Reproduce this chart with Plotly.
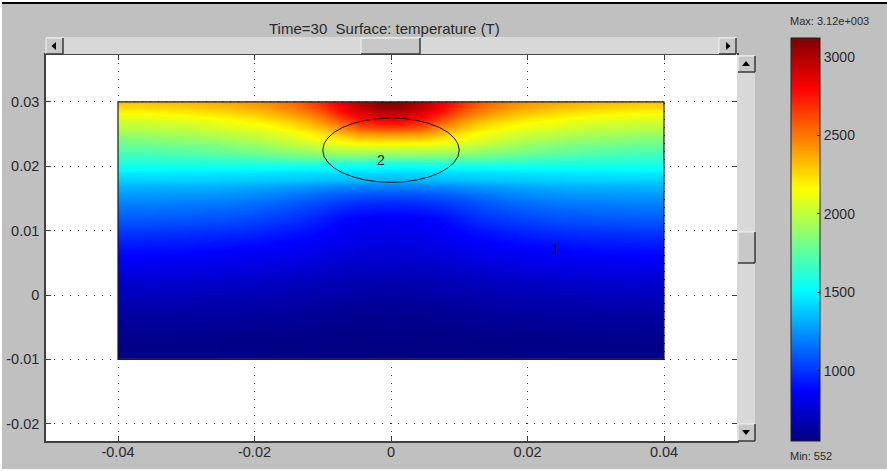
import plotly.graph_objects as go

# ---- data ----
x_tick_values = [-0.04, -0.02, 0, 0.02, 0.04]
x_tick_labels = ["-0.04", "-0.02", "0", "0.02", "0.04"]
y_tick_values = [-0.02, -0.01, 0, 0.01, 0.02, 0.03]
y_tick_labels = ["-0.02", "-0.01", "0", "0.01", "0.02", "0.03"]
bar_tick_values = [1000, 1500, 2000, 2500, 3000]
t_min = 552
t_max = 3120

# right-hand half of the symmetric domain: cell edges in x
x_half_edges = [0.001, 0.003, 0.006, 0.009, 0.012, 0.016, 0.020, 0.026, 0.034, 0.040]
# cell edges in y, from the top of the domain downward
y_edges_down = [0.03, 0.0296, 0.0288, 0.028, 0.027, 0.026, 0.025, 0.024, 0.023, 0.022,
                0.021, 0.02, 0.019, 0.017, 0.014, 0.01, 0.005, 0.0, -0.005, -0.01]
# temperature, one list per x cell (centre outward), each running top to bottom
col_0 = [3120, 3060, 2960, 2870, 2720, 2520, 2320, 2140, 1970, 1800, 1590, 1480, 1350, 1060, 860, 790, 680, 600, 555]
col_1 = [3090, 3040, 2940, 2855, 2710, 2515, 2318, 2140, 1970, 1800, 1592, 1482, 1352, 1062, 862, 791, 682, 601, 555]
col_2 = [3000, 2960, 2880, 2790, 2660, 2490, 2310, 2140, 1970, 1800, 1600, 1485, 1355, 1070, 870, 795, 685, 603, 556]
col_3 = [2830, 2800, 2740, 2640, 2500, 2380, 2240, 2110, 1960, 1800, 1610, 1490, 1360, 1090, 900, 810, 695, 608, 558]
col_4 = [2680, 2640, 2560, 2470, 2370, 2260, 2160, 2060, 1930, 1790, 1620, 1490, 1370, 1120, 950, 830, 705, 615, 560]
col_5 = [2540, 2500, 2440, 2350, 2250, 2160, 2080, 2000, 1890, 1770, 1620, 1500, 1380, 1160, 1000, 850, 720, 625, 563]
col_6 = [2450, 2400, 2340, 2260, 2170, 2090, 2010, 1940, 1850, 1740, 1610, 1505, 1390, 1200, 1040, 870, 730, 632, 566]
col_7 = [2390, 2330, 2270, 2190, 2110, 2040, 1960, 1880, 1800, 1700, 1600, 1510, 1400, 1230, 1075, 890, 745, 640, 570]
col_8 = [2330, 2270, 2200, 2120, 2040, 1980, 1900, 1820, 1750, 1670, 1595, 1515, 1405, 1250, 1095, 910, 755, 645, 573]
col_9 = [2300, 2240, 2170, 2090, 2010, 1950, 1860, 1790, 1720, 1650, 1590, 1520, 1410, 1260, 1110, 920, 760, 650, 575]
half_columns = [col_0, col_1, col_2, col_3, col_4, col_5, col_6, col_7, col_8, col_9]

# ---- figure geometry (pixels) ----
W, H = 887, 471
L, R, T, B = 46, 737, 55, 441
FONT = "Liberation Sans, Arial, sans-serif"
INK = "#2a2a2a"

def px(v):
    return (v - L) / (R - L)

def py(v):
    return (B - v) / (B - T)

x_edges = [-e for e in reversed(x_half_edges)] + x_half_edges
columns = list(reversed(half_columns[1:])) + half_columns
y_edges = list(reversed(y_edges_down))
z = [[c[len(y_edges_down) - 2 - i] for c in columns] for i in range(len(y_edges_down) - 1)]

jet = [[0, "#000080"], [0.125, "#0000ff"], [0.375, "#00ffff"], [0.625, "#ffff00"],
       [0.875, "#ff0000"], [1, "#800000"]]

fig = go.Figure(go.Heatmap(
    x=x_edges, y=y_edges, z=z, zmin=t_min, zmax=t_max, zsmooth="best",
    colorscale=jet, hoverinfo="skip",
    colorbar=dict(
        x=px(791), xanchor="left", xpad=0, y=py(441), yanchor="bottom", ypad=0,
        thickness=29, thicknessmode="pixels", len=403, lenmode="pixels",
        outlinecolor="#222222", outlinewidth=1, borderwidth=0,
        tickmode="array", tickvals=bar_tick_values,
        ticks="inside", ticklen=3, tickcolor="#222222", tickwidth=1,
        tickfont=dict(family=FONT, size=14, color=INK),
    ),
))

shapes = []

def rect(x0, y0, x1, y1, fill, line=None, width=0):
    shapes.append(dict(type="rect", xref="paper", yref="paper",
                       x0=px(x0), x1=px(x1), y0=py(y1), y1=py(y0),
                       fillcolor=fill, line=dict(color=line or fill, width=width)))

def seg(x0, y0, x1, y1, color, width=1):
    shapes.append(dict(type="line", xref="paper", yref="paper",
                       x0=px(x0), x1=px(x1), y0=py(y0), y1=py(y1),
                       line=dict(color=color, width=width)))

def button(x0, y0, x1, y1):
    rect(x0, y0, x1, y1, "#c8c8c8")
    seg(x0, y0, x1, y0, "#f2f2f2", 1)
    seg(x0, y0, x0, y1, "#f2f2f2", 1)
    seg(x0, y1, x1, y1, "#3a3a3a", 1.5)
    seg(x1, y0, x1, y1, "#3a3a3a", 1.5)

def arrow(points):
    d = "M" + " L".join(f"{px(a)},{py(b)}" for a, b in points) + " Z"
    shapes.append(dict(type="path", xref="paper", yref="paper", path=d,
                       fillcolor="#000000", line=dict(color="#000000", width=0)))

# window edges
rect(0, 0, W, 2, "#ffffff")
rect(0, 2, W, 4, "#000000")
rect(0, 0, 2, H, "#ffffff")
rect(0, 469, W, H, "#ffffff")

# horizontal scrollbar
rect(L, 37, R, 55, "#d8d8d8")
seg(L, 54.5, R - 1, 54.5, "#4a4a4a", 1)
button(L, 38, 63, 54)
button(361, 38, 420, 54)
button(719, 38, 736, 54)
arrow([(51.5, 46), (56, 42), (56, 50)])
arrow([(730.5, 46), (726, 42), (726, 50)])

# vertical scrollbar
rect(R, T, 755, B, "#d8d8d8")
button(738, 56, 755, 72)
button(738, 232, 755, 263)
button(738, 424, 755, 441)
arrow([(746, 61), (742, 66), (750, 66)])
arrow([(746, 435), (742, 430), (750, 430)])

# domain outline and inner circle
shapes.append(dict(type="rect", xref="x", yref="y", x0=-0.04, x1=0.04, y0=-0.01, y1=0.03,
                   line=dict(color="#1c1c1c", width=1.2)))
shapes.append(dict(type="circle", xref="x", yref="y", x0=-0.01, x1=0.01, y0=0.0175, y1=0.0275,
                   line=dict(color="#111111", width=1)))

# left-hand colour bar ticks
for v in bar_tick_values:
    yy = B - (v - t_min) / (t_max - t_min) * 403
    seg(791, yy, 794, yy, "#222222", 1)

annotations = [
    dict(x=-0.0015, y=0.021, xref="x", yref="y", text="2", showarrow=False,
         font=dict(family=FONT, size=14, color="#1a1a1a")),
    dict(x=0.0238, y=0.0071, xref="x", yref="y", xshift=3, text="1", showarrow=False,
         font=dict(family=FONT, size=14, color="#1a1a1a")),
    dict(x=px(788), y=py(21), xref="paper", yref="paper", xanchor="left", yanchor="middle",
         text="Max: 3.12e+003", showarrow=False, font=dict(family=FONT, size=11, color=INK)),
    dict(x=px(788), y=py(456), xref="paper", yref="paper", xanchor="left", yanchor="middle",
         text="Min: 552", showarrow=False, font=dict(family=FONT, size=11, color=INK)),
    dict(x=px(384.5), y=py(29), xref="paper", yref="paper", xanchor="center", yanchor="middle",
         text="Time=30\u00a0\u00a0Surface: temperature (T)", showarrow=False,
         font=dict(family=FONT, size=15, color=INK)),
]

axis_common = dict(
    automargin=False,
    showline=True, linecolor="#404040", linewidth=1.5, mirror="ticks",
    ticks="inside", ticklen=5, tickcolor="#404040", tickwidth=1,
    showgrid=True, gridcolor="#333333", griddash="1px,7px", gridwidth=1,
    zeroline=False, tickmode="array",
    tickfont=dict(family=FONT, size=14.5, color=INK),
)

fig.update_layout(
    width=W, height=H, autosize=False,
    margin=dict(l=L, r=W - R, t=T, b=H - B, pad=0, autoexpand=False),
    paper_bgcolor="#c0c0c0", plot_bgcolor="#ffffff",
    showlegend=False, shapes=shapes, annotations=annotations,
    xaxis=dict(range=[(L - 391) / 6825, (R - 391) / 6825], ticklabelstandoff=-3,
               tickvals=x_tick_values, ticktext=x_tick_labels, **axis_common),
    yaxis=dict(range=[(295 - B) / 6437, (295 - T) / 6437], ticklabelstandoff=2,
               tickvals=y_tick_values, ticktext=y_tick_labels, **axis_common),
)

fig.write_html("out.html", config=dict(displayModeBar=False),
               post_script="document.body.style.margin='0';document.body.style.overflow='hidden';")
